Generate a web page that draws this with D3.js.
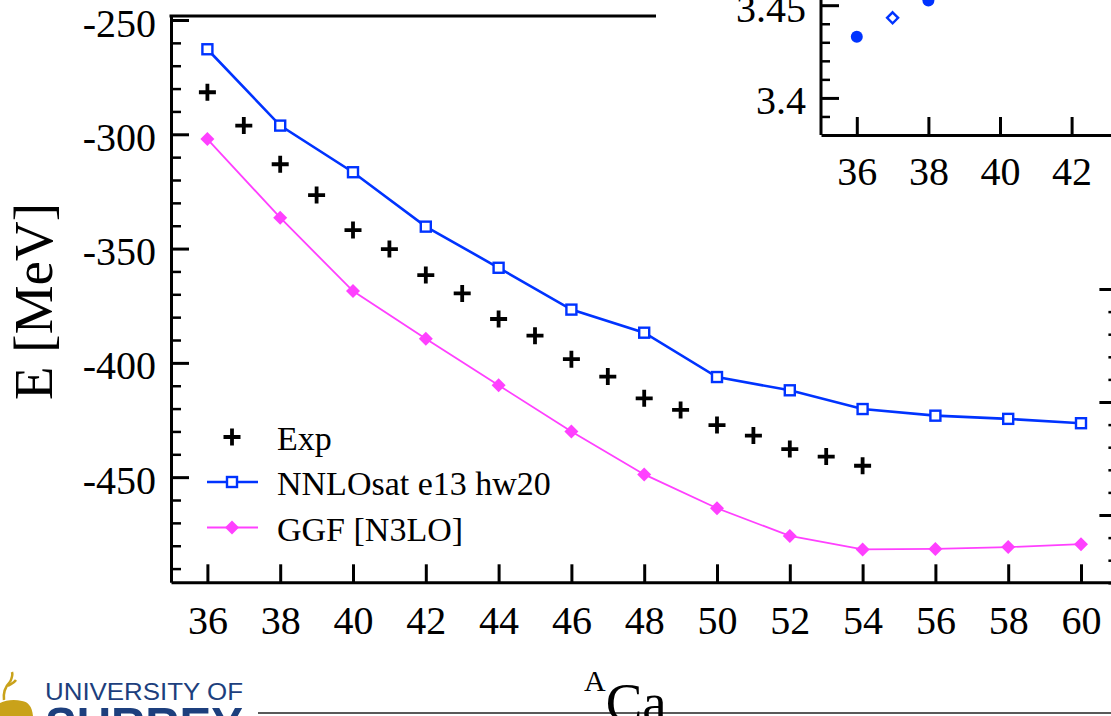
<!DOCTYPE html>
<html>
<head>
<meta charset="utf-8">
<script src="https://cdn.jsdelivr.net/npm/d3@7"></script>
<style>
  html, body { margin: 0; padding: 0; background: #fff; }
  svg { display: block; }
  text { font-family: "Liberation Serif", "Times New Roman", serif; fill: #000; }
</style>
</head>
<body>
<svg id="chart" width="1111" height="716"></svg>
<script>
// Ground-state energies of calcium isotopes
const expMass = [36, 37, 38, 39, 40, 41, 42, 43, 44, 45, 46, 47, 48, 49, 50, 51, 52, 53, 54];
const expEnergy = [-281.6, -296.2, -313.1, -326.6, -341.9, -350.2, -361.6, -369.6, -380.8, -388.1,
                   -398.4, -406.0, -415.5, -420.6, -427.2, -431.8, -437.7, -441.0, -445.0];

const calcMass = [36, 38, 40, 42, 44, 46, 48, 50, 52, 54, 56, 58, 60];
const nnlosatEnergy = [-262.8, -296.2, -316.6, -340.4, -358.4, -376.7, -386.8, -406.2, -412.0, -420.2, -423.1, -424.5, -426.4];
const ggfEnergy = [-302.1, -336.5, -368.6, -389.5, -409.8, -430.0, -448.8, -463.6, -475.7, -481.6, -481.4, -480.6, -479.3];

const xTickValues = [36, 38, 40, 42, 44, 46, 48, 50, 52, 54, 56, 58, 60];
const yTickValues = [-450, -400, -350, -300, -250];
const yMinorValues = d3.range(-490, -249, 10).filter(v => v % 50 !== 0);

// inset: radii
const insetEvenMass = [36, 38];
const insetEvenRadius = [3.433, 3.4525];
const insetOddMass = [37];
const insetOddRadius = [3.4432];
const insetXTicks = [36, 38, 40, 42, 44];
const insetYTicks = [3.4, 3.45];
const insetYMinor = [3.39, 3.41, 3.42, 3.43, 3.44];

// secondary axis along the right edge of the frame
const rightMajor = [0, 5, 10];
const rightMinor = [-3, -2, -1, 1, 2, 3, 4, 6, 7, 8, 9];

const legendItems = ["Exp", "NNLOsat e13 hw20", "GGF [N3LO]"];

const BLUE = "#0033ff";
const MAGENTA = "#ff40ff";

// plain hyphen-minus labels
const plain = d => String(d);

const svg = d3.select("#chart");

const x = d3.scaleLinear().domain([35, 61]).range([171, 1117.4]);
const y = d3.scaleLinear().domain([-496, -248.25]).range([582.3, 16]);

function styleAxis(g, width) {
  g.select(".domain").attr("stroke", "#000").attr("stroke-width", width);
  g.selectAll(".tick line").attr("stroke", "#000").attr("stroke-width", 3);
  g.selectAll(".tick text").attr("font-size", 40).attr("font-family", "Liberation Serif, serif").attr("fill", "#000");
}

// top frame line
svg.append("line")
  .attr("x1", x(35) - 1.5).attr("x2", x(61))
  .attr("y1", y(-248.25)).attr("y2", y(-248.25))
  .attr("stroke", "#000").attr("stroke-width", 3);

// left axis
const gLeft = svg.append("g").attr("transform", `translate(${x(35)},0)`)
  .call(d3.axisLeft(y).tickValues(yTickValues).tickSizeInner(-18).tickSizeOuter(0).tickPadding(15).tickFormat(plain));
styleAxis(gLeft, 3);
gLeft.selectAll(".tick text").attr("dy", "0.4em");
svg.append("g").attr("transform", `translate(${x(35)},0)`)
  .call(d3.axisLeft(y).tickValues(yMinorValues).tickSizeInner(-10).tickSizeOuter(0).tickFormat(""))
  .call(g => { g.select(".domain").remove(); g.selectAll(".tick line").attr("stroke", "#000").attr("stroke-width", 2.5); });

// bottom axis
const gBottom = svg.append("g").attr("transform", `translate(0,${y(-496)})`)
  .call(d3.axisBottom(x).tickValues(xTickValues).tickSizeInner(-18).tickSizeOuter(0).tickPadding(23).tickFormat(plain));
styleAxis(gBottom, 3);

// secondary axis ticks on the right edge
const yR = d3.scaleLinear().domain([0, 10]).range([515, 289]);
svg.append("g").attr("transform", `translate(${x(61)},0)`)
  .call(d3.axisRight(yR).tickValues(rightMajor).tickSizeInner(-18).tickSizeOuter(0).tickFormat(""))
  .call(g => { g.select(".domain").remove(); g.selectAll(".tick line").attr("stroke", "#000").attr("stroke-width", 3); });
svg.append("g").attr("transform", `translate(${x(61)},0)`)
  .call(d3.axisRight(yR).tickValues(rightMinor).tickSizeInner(-9).tickSizeOuter(0).tickFormat(""))
  .call(g => { g.select(".domain").remove(); g.selectAll(".tick line").attr("stroke", "#000").attr("stroke-width", 2.5); });

// axis titles
svg.append("text")
  .attr("transform", "translate(52,301.5) rotate(-90)")
  .attr("text-anchor", "middle")
  .attr("font-size", 55)
  .text("E [MeV]");

// series lines
const line = d3.line().x(d => x(d[0])).y(d => y(d[1]));
const nnlosatPts = calcMass.map((m, i) => [m, nnlosatEnergy[i]]);
const ggfPts = calcMass.map((m, i) => [m, ggfEnergy[i]]);
const expPts = expMass.map((m, i) => [m, expEnergy[i]]);

svg.append("path").datum(ggfPts).attr("d", line)
  .attr("fill", "none").attr("stroke", MAGENTA).attr("stroke-width", 1.8);
svg.append("path").datum(nnlosatPts).attr("d", line)
  .attr("fill", "none").attr("stroke", BLUE).attr("stroke-width", 2.6);

const diamond = (cx, cy, r) => `M${cx},${cy - r}L${cx + r},${cy}L${cx},${cy + r}L${cx - r},${cy}Z`;
const cross = (cx, cy, r) => `M${cx - r},${cy}H${cx + r}M${cx},${cy - r}V${cy + r}`;

svg.append("g").selectAll("path").data(ggfPts).join("path")
  .attr("d", d => diamond(x(d[0]), y(d[1]), 7))
  .attr("fill", MAGENTA);
svg.append("g").selectAll("rect").data(nnlosatPts).join("rect")
  .attr("x", d => x(d[0]) - 5).attr("y", d => y(d[1]) - 5)
  .attr("width", 10).attr("height", 10)
  .attr("fill", "#fff").attr("stroke", BLUE).attr("stroke-width", 2.4);
svg.append("g").selectAll("path").data(expPts).join("path")
  .attr("d", d => cross(x(d[0]), y(d[1]), 8.5))
  .attr("stroke", "#000").attr("stroke-width", 3.8).attr("fill", "none");

// legend
const legendX0 = 207, legendX1 = 258, legendMid = 232, legendText = 277;
const legendMarkerY = [437, 482, 527.5];
const legendBaseline = [450, 495, 541];
const lg = svg.append("g");
lg.append("path").attr("d", cross(legendMid, legendMarkerY[0], 8.5))
  .attr("stroke", "#000").attr("stroke-width", 3.8);
lg.append("line").attr("x1", legendX0).attr("x2", legendX1)
  .attr("y1", legendMarkerY[1]).attr("y2", legendMarkerY[1])
  .attr("stroke", BLUE).attr("stroke-width", 2.6);
lg.append("rect").attr("x", legendMid - 5).attr("y", legendMarkerY[1] - 5)
  .attr("width", 10).attr("height", 10)
  .attr("fill", "#fff").attr("stroke", BLUE).attr("stroke-width", 2.4);
lg.append("line").attr("x1", legendX0).attr("x2", legendX1)
  .attr("y1", legendMarkerY[2]).attr("y2", legendMarkerY[2])
  .attr("stroke", MAGENTA).attr("stroke-width", 1.8);
lg.append("path").attr("d", diamond(legendMid, legendMarkerY[2], 7)).attr("fill", MAGENTA);
lg.selectAll("text.leg").data(legendItems).join("text")
  .attr("class", "leg")
  .attr("x", legendText).attr("y", (d, i) => legendBaseline[i])
  .attr("font-size", 34)
  .text(d => d);

// inset panel
const xi = d3.scaleLinear().domain([35, 45]).range([821, 1179]);
const yi = d3.scaleLinear().domain([3.38, 3.45]).range([135, 5.2]);
const inset = svg.append("g");
inset.append("rect").attr("x", 656).attr("y", 0).attr("width", 460).attr("height", 280).attr("fill", "#fff");
const giLeft = inset.append("g").attr("transform", `translate(${xi(35)},0)`)
  .call(d3.axisLeft(yi).tickValues(insetYTicks).tickSizeInner(-18).tickSizeOuter(0).tickPadding(15).tickFormat(plain));
styleAxis(giLeft, 3);
giLeft.select(".domain").attr("d", `M0,${yi(3.38)}V-10`);
giLeft.selectAll(".tick text").attr("dy", "0.4em");
inset.append("g").attr("transform", `translate(${xi(35)},0)`)
  .call(d3.axisLeft(yi).tickValues(insetYMinor).tickSizeInner(-9).tickSizeOuter(0).tickFormat(""))
  .call(g => { g.select(".domain").remove(); g.selectAll(".tick line").attr("stroke", "#000").attr("stroke-width", 2.5); });
const giBottom = inset.append("g").attr("transform", `translate(0,${yi(3.38)})`)
  .call(d3.axisBottom(xi).tickValues(insetXTicks).tickSizeInner(-18).tickSizeOuter(0).tickPadding(22).tickFormat(plain));
styleAxis(giBottom, 3);

inset.append("g").selectAll("circle").data(insetEvenMass).join("circle")
  .attr("cx", d => xi(d)).attr("cy", (d, i) => yi(insetEvenRadius[i]))
  .attr("r", 6).attr("fill", BLUE);
inset.append("g").selectAll("path").data(insetOddMass).join("path")
  .attr("d", (d, i) => diamond(xi(d), yi(insetOddRadius[i]), 5.5))
  .attr("fill", "#fff").attr("stroke", BLUE).attr("stroke-width", 2.4);

// footer: logo, rule and x-axis title
const footer = svg.append("g");
footer.append("line").attr("x1", 258).attr("x2", 1111).attr("y1", 713).attr("y2", 713)
  .attr("stroke", "#222").attr("stroke-width", 1.5);
footer.append("path")
  .attr("d", "M0,716 L0,703 C6,700 14,699 22,701 C28,702 32,706 33,716 Z")
  .attr("fill", "#c9a21a");
footer.append("path")
  .attr("d", "M4,700 C3,692 6,686 10,682 M10,682 C12,678 13,675 12,672 M8,686 C11,684 14,683 16,680")
  .attr("fill", "none").attr("stroke", "#c9a21a").attr("stroke-width", 2.5);
footer.append("text").attr("x", 45).attr("y", 700)
  .attr("font-size", 24)
  .attr("textLength", 198).attr("lengthAdjust", "spacingAndGlyphs")
  .style("font-family", "Liberation Sans, Arial, sans-serif")
  .style("fill", "#1d3f7d")
  .text("UNIVERSITY OF");
footer.append("text").attr("x", 45).attr("y", 743)
  .style("font-family", "Liberation Sans, Arial, sans-serif").attr("font-size", 50).attr("font-weight", "bold")
  .attr("textLength", 198).attr("lengthAdjust", "spacingAndGlyphs")
  .style("fill", "#1d3f7d")
  .text("SURREY");

const xTitle = footer.append("text").attr("x", 584).attr("y", 721);
xTitle.append("tspan").attr("font-size", 30).attr("dy", -30).text("A");
xTitle.append("tspan").attr("font-size", 55).attr("dy", 30).text("Ca");
</script>
</body>
</html>
